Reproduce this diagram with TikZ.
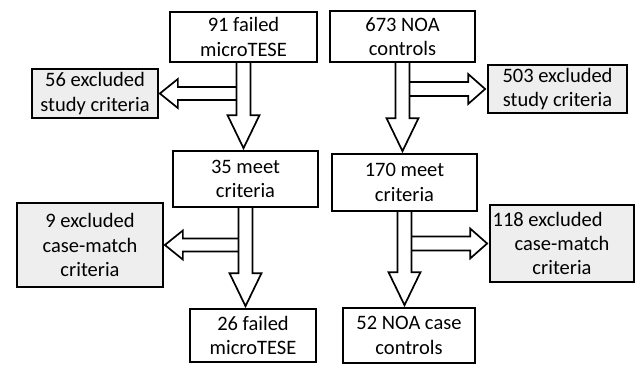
\documentclass[tikz,border=0pt]{standalone}
\usepackage{fontspec}
\setmainfont{Carlito}
\usetikzlibrary{calc,backgrounds}
\definecolor{cgris}{HTML}{EEEEEE}
\tikzset{
  caja/.style={rectangle, draw=black, line width=1.7pt, fill=white,
    align=center, inner sep=0pt, font=\fontsize{20.5}{24.4}\selectfont},
  cajag/.style={caja, fill=cgris},
  flecha/.style={draw=black, line width=1.7pt, fill=white, line join=miter},
}

\begin{document}
\begin{tikzpicture}[x=1pt, y=-1pt]
  \useasboundingbox (0,0) rectangle (637,365);
  % columna izquierda
  \node[caja, minimum width=147pt, minimum height=50pt] (fal) at (243.5,37) {91 failed\\microTESE};
  \node[cajag, minimum width=126pt, minimum height=49pt] (exe) at (95,93.5) {56 excluded\\study criteria};
  \node[caja, minimum width=145pt, minimum height=56pt] (met) at (245.5,179) {35 meet\\criteria};
  \node[cajag, minimum width=146pt, minimum height=84pt] (exm) at (90,245) {9 excluded\\case-match\\criteria};
  \node[caja, minimum width=126pt, minimum height=53pt] (fin) at (253,335.5) {26 failed\\microTESE};
  % columna derecha
  \node[caja, minimum width=145pt, minimum height=51pt] (noa) at (402.5,36.5) {673 NOA\\controls};
  \node[cajag, minimum width=139pt, minimum height=48pt] (nex) at (557.5,89) {503 excluded\\study criteria};
  \node[caja, minimum width=145pt, minimum height=57pt] (nme) at (404.5,182.5) {170 meet\\criteria};
  \node[cajag, minimum width=144pt, minimum height=77pt] (nem) at (562,243.5) {118 excluded\hspace*{1.4em}\\case-match\\criteria};
  \node[caja, minimum width=132pt, minimum height=55pt] (nfi) at (409,335.5) {52 NOA case\\controls};

  \begin{scope}[on background layer]
    % flechas laterales
    \foreach \de/\a in {fal/exe, met/exm} {
      \draw[flecha] let \p1=(\de.south), \p2=(\a.east) in
        (\x1-7pt,\y2+6.5pt) -- (\x2+19pt,\y2+6.5pt) -- (\x2+19pt,\y2+14.5pt) -- (\x2+1pt,\y2)
        -- (\x2+19pt,\y2-14.5pt) -- (\x2+19pt,\y2-6.5pt) -- (\x1-7pt,\y2-6.5pt);
    }
    \foreach \de/\a in {noa/nex, nme/nem} {
      \draw[flecha] let \p1=(\de.south), \p2=(\a.west) in
        (\x1+7pt,\y2+7pt) -- (\x2-19pt,\y2+7pt) -- (\x2-19pt,\y2+15pt) -- (\x2-2pt,\y2)
        -- (\x2-19pt,\y2-15pt) -- (\x2-19pt,\y2-7pt) -- (\x1+7pt,\y2-7pt);
    }
    % flechas verticales
    \foreach \de/\a in {fal/met, met/fin, noa/nme, nme/nfi} {
      \draw[flecha] let \p1=(\de.south), \p2=(\a.north) in
        (\x1-7pt,\y1) -- (\x1-7pt,\y2+35pt) -- (\x1-16pt,\y2+35pt) -- (\x1,\y2+2pt)
        -- (\x1+16pt,\y2+35pt) -- (\x1+7pt,\y2+35pt) -- (\x1+7pt,\y1);
    }
  \end{scope}
\end{tikzpicture}
\end{document}
